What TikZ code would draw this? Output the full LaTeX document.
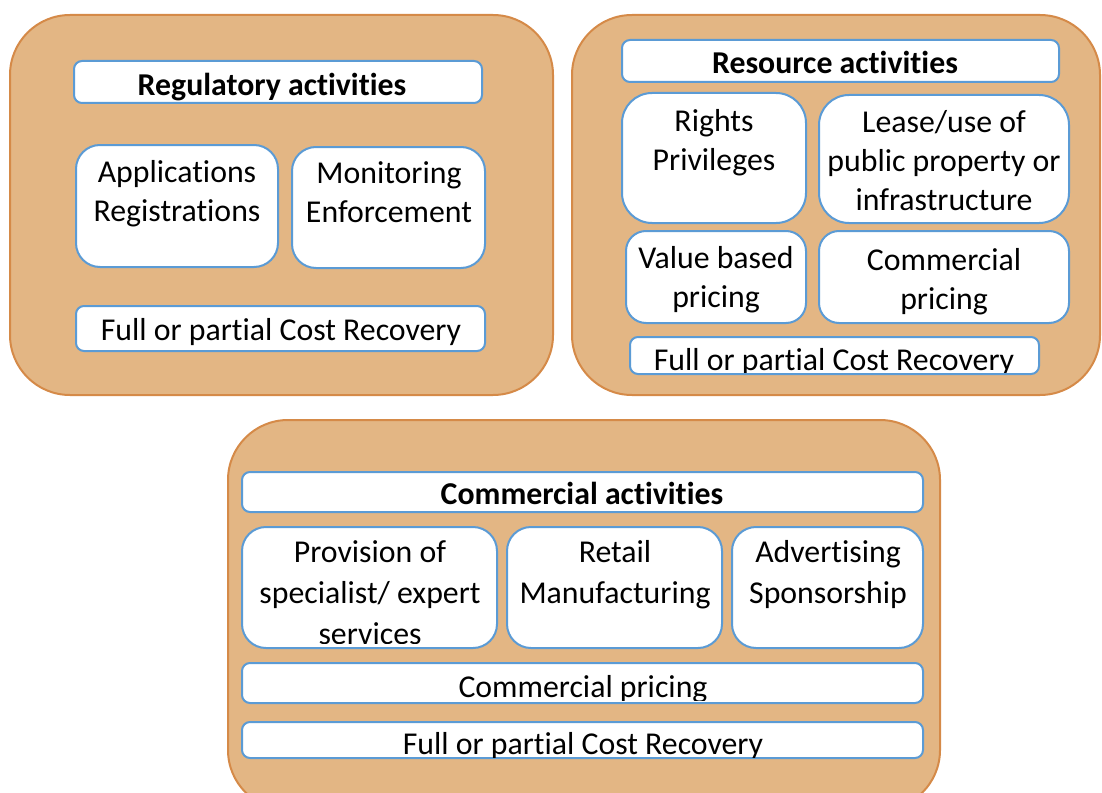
\documentclass[tikz,border=0pt]{standalone}
\usepackage{fontspec}
\setmainfont{Carlito}[RawFeature={-liga;-clig;-dlig;-calt}]
\usetikzlibrary{fit}

\definecolor{grpfill}{HTML}{E3B684}
\definecolor{grpedge}{HTML}{D58A48}
\definecolor{itemedge}{HTML}{5B9BD5}

% centred lines whose baseline is that of the first line
\newcommand{\stackc}[1]{\begin{tabular}[t]{@{}c@{}}#1\end{tabular}}

\tikzset{
  group/.style={draw=grpedge, fill=grpfill, line width=1pt, rounded corners=30pt,
                inner sep=0pt},
  item/.style={draw=itemedge, fill=white, line width=1pt, rounded corners=#1,
               inner sep=0pt},
  item/.default=4pt,
  lbl/.style={anchor=base, inner sep=0pt, text=black,
              font=\fontsize{15.9pt}{19.5pt}\selectfont},
  lbltight/.style={lbl, font=\fontsize{15.9pt}{20.5pt}\selectfont}
}

\begin{document}
\begin{tikzpicture}[x=0.5pt, y=-0.5pt]
\useasboundingbox (0,0) rectangle (1102,792);
\clip (0,0) rectangle (1102,792);

% ---------------- Regulatory activities ----------------
\node[group, fit={(10,15) (553,395)}] (reg) {};
\node[item, fit={(74,61) (482,103)}] (regTitle) {};
\node[item=12pt, fit={(76,145) (278,267)}] (regApp) {};
\node[item=12pt, fit={(292,147) (485,268)}] (regMon) {};
\node[item, fit={(76,306) (485,351)}] (regCost) {};

\node[lbl] (regTitleT) at (272,96) {\textbf{Regulatory activities}};
\node[lbl] (regAppT) at (177,182) {\stackc{Applications\\Registrations}};
\node[lbl] (regMonT) at (389,184) {\stackc{Monitoring\\Enforcement}};
\node[lbl] (regCostT) at (281,340) {Full or partial Cost Recovery};

% ---------------- Resource activities ----------------
\node[group, fit={(572,15) (1100,395)}] (res) {};
\node[item, fit={(622,40) (1059,82)}] (resTitle) {};
\node[item=15pt, fit={(622,93) (806,223)}] (resRights) {};
\node[item=15pt, fit={(819,95) (1069,223)}] (resLease) {};
\node[item=10pt, fit={(626,231) (806,323)}] (resValue) {};
\node[item=10pt, fit={(819,231) (1069,323)}] (resComm) {};
\node[item, fit={(630,337) (1039,374)}] (resCost) {};

\node[lbl] (resTitleT) at (835,74) {\textbf{Resource activities}};
\node[lbl] (resRightsT) at (714,132) {\stackc{Rights\\Privileges}};
\node[lbl] (resLeaseT) at (944,133) {\stackc{Lease/use of\\public property or\\infrastructure}};
\node[lbl] (resValueT) at (716,268) {\stackc{Value based\\pricing}};
\node[lbl] (resCommT) at (944,270) {\stackc{Commercial\\pricing}};
% the cost line is cut off just under its baseline
\begin{scope}
  \clip (resCost.north west) rectangle ([yshift=1.5pt]resCost.south east);
  \node[lbl] (resCostT) at (834,370) {Full or partial Cost Recovery};
\end{scope}

% ---------------- Commercial activities ----------------
\node[group, fit={(228,420) (940,810)}] (com) {};
\node[item, fit={(242,472) (923,512)}] (comTitle) {};
\node[item=12pt, fit={(242,527) (497,648)}] (comProv) {};
\node[item=12pt, fit={(507,527) (722,648)}] (comRetail) {};
\node[item=12pt, fit={(732,527) (923,648)}] (comAdv) {};
\node[item, fit={(242,663) (923,703)}] (comPrice) {};
\node[item, fit={(242,722) (923,758)}] (comCost) {};

\node[lbl] (comTitleT) at (582,504) {\textbf{Commercial activities}};
\begin{scope}
  \clip[rounded corners=12pt] (comProv.north west) rectangle ([yshift=3pt]comProv.south east);
  \node[lbltight] (comProvT) at (370,562) {\stackc{Provision of\\specialist/ expert\\services}};
\end{scope}
\node[lbltight] (comRetailT) at (615,562) {\stackc{Retail\\Manufacturing}};
\node[lbltight] (comAdvT) at (828,562) {\stackc{Advertising\\Sponsorship}};
\begin{scope}
  \clip (comPrice.north west) rectangle ([yshift=2pt]comPrice.south east);
  \node[lbl] (comPriceT) at (583,697) {Commercial pricing};
\end{scope}
\begin{scope}
  \clip (comCost.north west) rectangle ([yshift=1pt]comCost.south east);
  \node[lbl] (comCostT) at (583,754) {Full or partial Cost Recovery};
\end{scope}

\end{tikzpicture}
\end{document}
